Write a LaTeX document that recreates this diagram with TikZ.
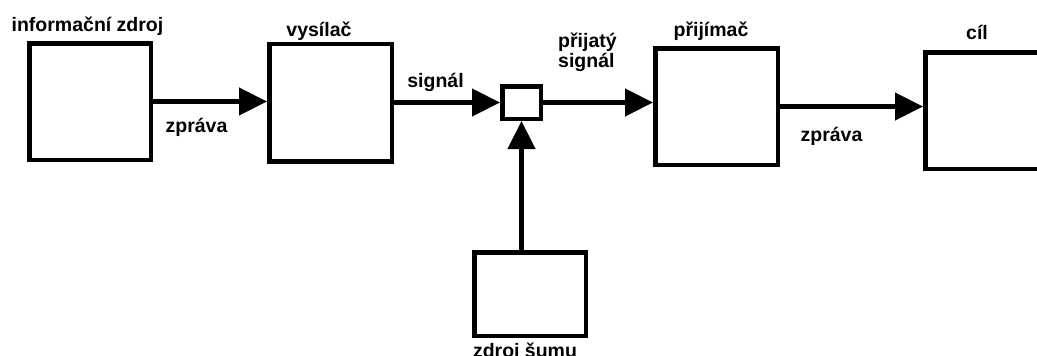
\documentclass[tikz,border=0pt]{standalone}
\usepackage{fontspec}
\setmainfont{Liberation Sans}
\usetikzlibrary{arrows.meta}
\tikzset{
  blk/.style={draw=black, line width=4.5pt, inner sep=0pt, fill=white},
  lbl/.style={inner sep=0pt, anchor=base, font=\fontsize{19.5}{21}\selectfont\bfseries, text=black},
  conn/.style={line width=4.5pt, -{Triangle[length=28pt,width=27pt]}}
}
\begin{document}
\begin{tikzpicture}[x=1pt,y=-1pt]
\useasboundingbox (0,0) rectangle (1037,356);
% boxes
\node[blk, minimum width=121.5pt, minimum height=116.5pt] (src) at (90,101.5) {};
\node[blk, minimum width=122.5pt, minimum height=117.5pt] (tx) at (330.5,102.5) {};
\node[blk, minimum width=38.5pt, minimum height=32.5pt] (mix) at (521.5,102.5) {};
\node[blk, minimum width=122.5pt, minimum height=116.5pt] (rx) at (716.5,106.5) {};
\node[blk, minimum width=122.5pt, minimum height=116.5pt] (dst) at (986.5,110.5) {};
\node[blk, minimum width=111.5pt, minimum height=83.5pt] (noise) at (530,294) {};
% labels
\node[lbl] (lsrc) at (87.5,31) {informační zdroj};
\node[lbl] (ltx) at (319,36) {vysílač};
\node[lbl] (lrx) at (711,36) {přijímač};
\node[lbl] (ldst) at (977,39) {cíl};
\node[lbl] (lnoise) at (525,357.5) {zdroj šumu};
\node[lbl] (lz1) at (196.5,132) {zpráva};
\node[lbl] (lsig) at (435.5,87) {signál};
\node[lbl, anchor=base west, align=left] (lrsig) at (558,67) {přijatý\\[-1pt]signál};
\node[lbl] (lz2) at (831.5,141) {zpráva};
% connectors
\draw[conn] (src.east) -- (src.east -| tx.west);
\draw[conn] (tx.east) -- (tx.east -| mix.west);
\draw[conn] (mix.east) -- (mix.east -| rx.west);
\draw[conn] (rx.east) -- (rx.east -| dst.west);
\draw[conn] (mix.south |- noise.north) -- (mix.south);
\end{tikzpicture}
\end{document}
